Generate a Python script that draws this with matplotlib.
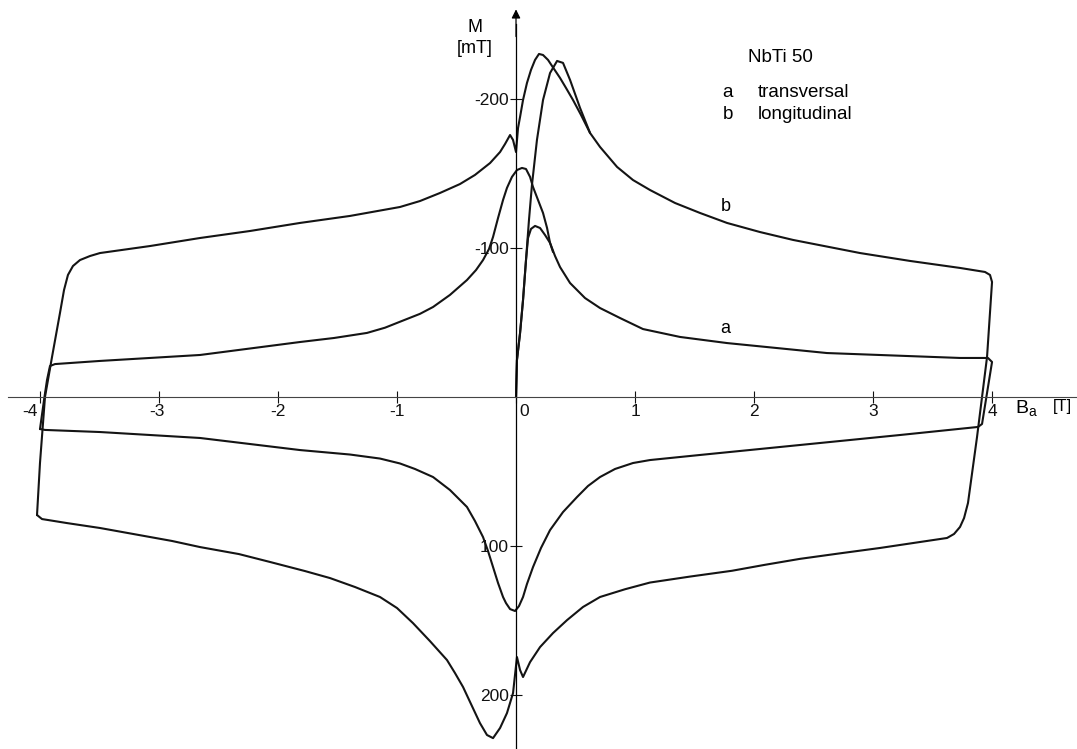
import matplotlib
matplotlib.use('Agg')
import matplotlib.pyplot as plt
from matplotlib.transforms import ScaledTranslation

plt.rcParams['font.family'] = ['Liberation Sans', 'DejaVu Sans']

# values: B_a in T, M in mT (negative M drawn upwards)
# curve b (longitudinal), full loop starting at the lower-left corner
b_loop_B = [-4.025, -4.000, -3.958, -3.899, -3.832, -3.798, -3.765, -3.723, -3.664, -3.580,
            -3.496, -3.076, -2.655, -2.235, -1.815, -1.395, -0.975, -0.807, -0.639, -0.471,
            -0.345, -0.218, -0.134, -0.092, -0.050, -0.025, 0.0, 0.017, 0.034, 0.059,
            0.092, 0.126, 0.160, 0.193, 0.227, 0.269, 0.303, 0.370, 0.420, 0.479,
            0.546, 0.622, 0.706, 0.849, 0.983, 1.126, 1.336, 1.546, 1.773, 2.050,
            2.328, 2.891, 3.311, 3.731, 3.941, 3.983, 4.000, 3.958, 3.916, 3.874,
            3.798, 3.765, 3.731, 3.681, 3.622, 3.336, 3.059, 2.723, 2.387, 2.092,
            1.815, 1.462, 1.126, 0.916, 0.706, 0.563, 0.429, 0.311, 0.202, 0.118,
            0.059, 0.034, 0.008, -0.025, -0.076, -0.134, -0.193, -0.244, -0.303, -0.370,
            -0.445, -0.513, -0.580, -0.723, -0.866, -1.000, -1.143, -1.353, -1.563, -1.773,
            -2.067, -2.328, -2.655, -2.891, -3.496, -3.773, -3.983, -4.025]
b_loop_M = [79.2, 44.3, 0.0, -26.8, -56.4, -71.8, -81.9, -87.9, -91.9, -94.6,
            -96.6, -101.3, -106.7, -111.4, -116.8, -121.5, -127.5, -131.5, -136.9, -142.9,
            -149.0, -157.0, -164.4, -169.8, -175.8, -172.5, -164.4, -180.5, -187.9, -199.3,
            -210.7, -219.5, -226.2, -230.2, -229.5, -226.2, -222.1, -214.1, -207.4, -199.3,
            -189.3, -177.2, -167.8, -154.4, -145.6, -138.9, -130.2, -123.5, -116.8, -110.7,
            -105.4, -96.6, -91.3, -86.6, -83.9, -81.9, -77.2, -26.8, 0.0, 26.8,
            71.1, 81.2, 87.2, 91.9, 94.6, 98.0, 101.3, 104.9, 108.6, 112.6,
            116.6, 120.5, 124.5, 129.0, 134.2, 140.9, 149.7, 158.4, 167.8, 177.9,
            187.9, 183.2, 174.5, 198.7, 212.1, 222.1, 228.9, 226.8, 218.8, 207.4,
            194.6, 185.2, 176.5, 163.8, 151.7, 141.6, 134.2, 127.5, 121.5, 116.8,
            110.7, 105.4, 100.7, 96.6, 87.9, 84.6, 81.9, 79.2]

# curve b, first rise from the origin
b_virgin_B = [0.0, 0.008, 0.034, 0.059, 0.084, 0.109, 0.134, 0.176, 0.227, 0.286,
              0.345, 0.395, 0.454, 0.538, 0.622]
b_virgin_M = [0.0, -24.8, -42.9, -65.1, -91.9, -118.8, -142.3, -172.5, -199.3, -217.4,
              -225.5, -224.2, -212.8, -194.0, -177.2]

# curve a (transversal), full loop starting at the lower-left corner
a_loop_B = [-4.000, -3.966, -3.941, -3.916, -3.874, -3.496, -2.655, -1.815, -1.529, -1.252,
            -1.101, -0.975, -0.807, -0.697, -0.555, -0.412, -0.336, -0.277, -0.227, -0.193,
            -0.151, -0.109, -0.076, -0.034, 0.008, 0.050, 0.084, 0.118, 0.143, 0.185,
            0.227, 0.261, 0.286, 0.328, 0.370, 0.454, 0.580, 0.706, 0.874, 1.067,
            1.378, 1.773, 2.613, 3.731, 3.966, 4.000, 3.916, 3.882, 3.227, 2.387,
            1.546, 1.126, 0.983, 0.832, 0.706, 0.605, 0.513, 0.395, 0.286, 0.210,
            0.143, 0.092, 0.059, 0.025, -0.008, -0.050, -0.084, -0.109, -0.151, -0.193,
            -0.235, -0.277, -0.345, -0.412, -0.555, -0.697, -0.849, -0.975, -1.143, -1.395,
            -1.815, -2.655, -3.496, -3.958, -4.000]
a_loop_M = [21.5, 2.0, -11.4, -20.8, -22.1, -24.2, -28.2, -36.9, -39.6, -43.0,
            -46.5, -50.5, -55.8, -60.4, -68.5, -78.5, -85.2, -91.9, -99.3, -107.4,
            -120.1, -132.2, -140.3, -147.7, -152.3, -153.7, -153.0, -147.7, -140.9, -132.2,
            -123.5, -113.4, -103.4, -94.6, -87.2, -76.5, -66.4, -59.7, -53.0, -45.6,
            -40.3, -36.2, -29.5, -26.2, -26.2, -23.5, 18.1, 20.1, 25.5, 32.2,
            38.9, 42.3, 44.3, 48.3, 53.7, 59.7, 67.1, 77.2, 89.3, 101.3,
            114.1, 125.5, 134.2, 140.3, 143.6, 142.3, 138.3, 134.2, 124.8, 114.1,
            103.4, 94.0, 83.2, 73.8, 62.4, 53.7, 48.3, 44.6, 41.3, 38.6,
            35.6, 27.5, 23.5, 22.1, 21.5]

# curve a, first rise from the origin
a_virgin_B = [0.0, 0.008, 0.034, 0.059, 0.084, 0.101, 0.126, 0.160, 0.202, 0.244, 0.286, 0.311]
a_virgin_M = [0.0, -24.8, -42.9, -65.1, -91.9, -106.7, -112.8, -114.8, -113.4, -108.7, -103.4, -97.3]

x_ticks = [-4, -3, -2, -1, 0, 1, 2, 3, 4]
x_labels = ['-4', '-3', '-2', '-1', '0', '1', '2', '3', '4']
y_ticks = [-200, -100, 100, 200]
y_labels = ['-200', '-100', '100', '200']

fig = plt.figure(figsize=(10.77, 7.49), dpi=100)
ax = fig.add_axes([0, 0, 1, 1])
ax.set_xlim(-4.336, 4.714)
ax.set_ylim(236.2, -266.4)

line_kw = dict(color='#141414', lw=1.5, solid_joinstyle='round', solid_capstyle='round')
ax.plot(b_loop_B, b_loop_M, **line_kw)
ax.plot(b_virgin_B, b_virgin_M, **line_kw)
ax.plot(a_loop_B, a_loop_M, **line_kw)
ax.plot(a_virgin_B, a_virgin_M, **line_kw)

# axes through the origin
for s in ['top', 'right']:
    ax.spines[s].set_visible(False)
ax.spines['left'].set_position(('data', 0))
ax.spines['bottom'].set_position(('data', 0))
ax.spines['left'].set_bounds(236.2, -250)
ax.spines['bottom'].set_bounds(-4.27, 4.714)
ax.spines['left'].set_linewidth(0.9)
ax.spines['bottom'].set_linewidth(0.8)
ax.spines['bottom'].set_color('#444444')
ax.annotate('', xy=(0, -262), xytext=(0, -240),
            arrowprops=dict(arrowstyle='-|>', lw=0.9, color='k', mutation_scale=13))

ax.set_xticks(x_ticks)
ax.set_xticklabels(x_labels)
ax.set_yticks(y_ticks)
ax.set_yticklabels(y_labels)
ax.tick_params(axis='both', direction='inout', length=8, width=0.8, labelsize=12.5, colors='#111111')
ax.tick_params(axis='x', pad=1)
ax.tick_params(axis='y', pad=1)

# nudge some x labels like the original lettering
shifts = {'-4': -10, '-3': -2, '0': 8}
for lab in ax.get_xticklabels():
    dx = shifts.get(lab.get_text(), 0)
    if dx:
        lab.set_transform(lab.get_transform() + ScaledTranslation(dx / 100, 0, fig.dpi_scale_trans))

ax.text(-0.345, -248, 'M', ha='center', va='center', fontsize=13)
ax.text(-0.345, -234, '[mT]', ha='center', va='center', fontsize=13)
ax.text(4.29, 7.5, r'$\mathregular{B_a}$', ha='center', va='center', fontsize=14)
ax.text(4.59, 6.5, '[T]', ha='center', va='center', fontsize=12)

ax.text(1.76, -128, 'b', ha='center', va='center', fontsize=13)
ax.text(1.76, -46, 'a', ha='center', va='center', fontsize=13)

ax.text(1.95, -227.5, 'NbTi 50', ha='left', va='center', fontsize=13.5)
ax.text(1.78, -204, 'a', ha='center', va='center', fontsize=13.5)
ax.text(2.03, -204, 'transversal', ha='left', va='center', fontsize=13.5)
ax.text(1.78, -189.3, 'b', ha='center', va='center', fontsize=13.5)
ax.text(2.03, -189.3, 'longitudinal', ha='left', va='center', fontsize=13.5)

fig.savefig('out.png', dpi=100)
